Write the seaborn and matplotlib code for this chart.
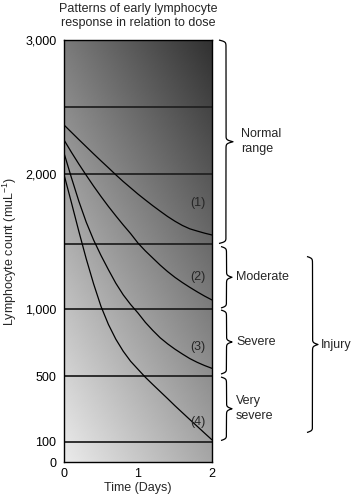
import numpy as np
import pandas as pd
import matplotlib
matplotlib.use("Agg")
import matplotlib.pyplot as plt
import seaborn as sns

# values
days = [round(0.1 * i, 1) for i in range(21)]
curve1 = [2367, 2313, 2259, 2206, 2153, 2101, 2050, 1998, 1950, 1905, 1860,
          1818, 1777, 1738, 1700, 1666, 1636, 1612, 1596, 1581, 1568]
curve2 = [2256, 2165, 2078, 1995, 1917, 1843, 1772, 1705, 1640, 1578, 1510,
          1450, 1395, 1340, 1290, 1245, 1205, 1168, 1133, 1100, 1070]
curve3 = [2159, 1978, 1810, 1660, 1532, 1415, 1305, 1200, 1110, 1035, 970,
          900, 840, 785, 740, 700, 664, 630, 602, 578, 557]
curve4 = [2000, 1800, 1595, 1390, 1195, 1020, 885, 775, 685, 610, 550,
          492, 448, 405, 362, 318, 276, 234, 193, 151, 110]
curve_names = ["(1)", "(2)", "(3)", "(4)"]

y_ticks = [0, 100, 500, 1000, 2000, 3000]
y_tick_labels = ["0", "100", "500", "1,000", "2,000", "3,000"]
x_ticks = [0, 1, 2]
band_levels = [100, 500, 1000, 1500, 2000, 2500]

sns.set_style("white")
plt.rcParams["font.family"] = ["Liberation Sans", "DejaVu Sans"]
plt.rcParams["mathtext.fontset"] = "custom"
plt.rcParams["mathtext.rm"] = "Liberation Sans"
plt.rcParams["mathtext.default"] = "regular"
FS = 9

# the printed axis is stretched unevenly, most of all below 500
scale_vals = [0, 100, 500, 1000, 1500, 2000, 2500, 3000]
scale_pos = [0, 20.5, 86, 153, 217.5, 287.5, 355, 422]


def fwd(v):
    return np.interp(v, scale_vals, scale_pos)


def inv(p):
    return np.interp(p, scale_pos, scale_vals)


fig = plt.figure(figsize=(3.58, 4.98), dpi=100)
ax = fig.add_axes([64 / 358, 36 / 498, 148 / 358, 422 / 498])

# shaded background, light bottom-left to dark top-right
u = np.linspace(0, 1, 200)
U, V = np.meshgrid(u, u)
c00, c10, c01, c11 = 0.92, 0.65, 0.48, 0.19
grad = c00 * (1 - U) * (1 - V) + c10 * U * (1 - V) + c01 * (1 - U) * V + c11 * U * V
ax.imshow(grad, extent=(0, 1, 0, 1), origin="lower", transform=ax.transAxes,
          aspect="auto", cmap="gray", vmin=0, vmax=1, zorder=0)

for lvl in band_levels:
    ax.axhline(lvl, color="#222222", lw=1.3, zorder=2)

df = pd.DataFrame({
    "day": days * 4,
    "count": curve1 + curve2 + curve3 + curve4,
    "curve": np.repeat(curve_names, len(days)),
})
sns.lineplot(data=df, x="day", y="count", units="curve", estimator=None,
             color="black", lw=0.9, ax=ax, zorder=3)

ax.set_yscale("function", functions=(fwd, inv))
ax.set_xlim(0, 2)
ax.set_ylim(0, 3000)
ax.set_yticks(y_ticks)
ax.set_yticklabels(y_tick_labels)
ax.set_xticks(x_ticks)
ax.tick_params(length=0, labelsize=FS, colors="black")
ax.tick_params(axis="y", pad=5.5)
ax.tick_params(axis="x", pad=4)
ax.set_xlabel("Time (Days)", fontsize=FS, labelpad=2)
ax.set_ylabel("Lymphocyte count (muL$^{-1}$)", fontsize=FS, labelpad=4)
for sp in ax.spines.values():
    sp.set_color("black")
    sp.set_linewidth(1.0)

ax.text(0.5, 1.025, "Patterns of early lymphocyte\nresponse in relation to dose",
        transform=ax.transAxes, ha="center", va="bottom", fontsize=FS,
        linespacing=1.25)

label_y = [1794, 1250, 714, 221]
for name, yv in zip(curve_names, label_y):
    ax.text(1.81, yv, name, ha="center", va="center", fontsize=FS, zorder=4)

# overlay in image pixel coordinates for the braces
ov = fig.add_axes([0, 0, 1, 1], zorder=5)
ov.set_xlim(0, 358)
ov.set_ylim(498, 0)
ov.axis("off")
ov.patch.set_alpha(0)


def py(v):
    return 498 - ax.transData.transform((0, v))[1]


def brace(x0, ytop, ybot, w):
    half = (ybot - ytop) / 2
    s = np.linspace(0, half, 200)
    f = 1 / (1 + np.exp(-1.1 * (s - s[0]))) + 1 / (1 + np.exp(-1.1 * (s - s[-1])))
    off = (f - 0.5) * w
    xs = np.concatenate([off, off[-2::-1]]) + x0
    ys = np.concatenate([ytop + s, ytop + half + s[1:]])
    ov.plot(xs, ys, color="black", lw=0.9, solid_capstyle="butt")
    return ytop + half


m = brace(219, py(3000), py(1500) - 1, 14)
ov.text(241, m, "Normal\nrange", ha="left", va="center", fontsize=FS, linespacing=1.3)
m = brace(221, py(1500) + 2, py(1000) - 1, 11)
ov.text(236, m, "Moderate", ha="left", va="center", fontsize=FS)
m = brace(221, py(1000) + 1, py(500) - 2, 11)
ov.text(236, m, "Severe", ha="left", va="center", fontsize=FS)
m = brace(221, py(500) + 1, py(100) - 1, 11)
ov.text(236, m, "Very\nsevere", ha="left", va="center", fontsize=FS, linespacing=1.3)
m = brace(307, py(1500) + 12, py(100) - 9, 11)
ov.text(321, m, "Injury", ha="left", va="center", fontsize=FS)

fig.savefig("out.png", dpi=100)
